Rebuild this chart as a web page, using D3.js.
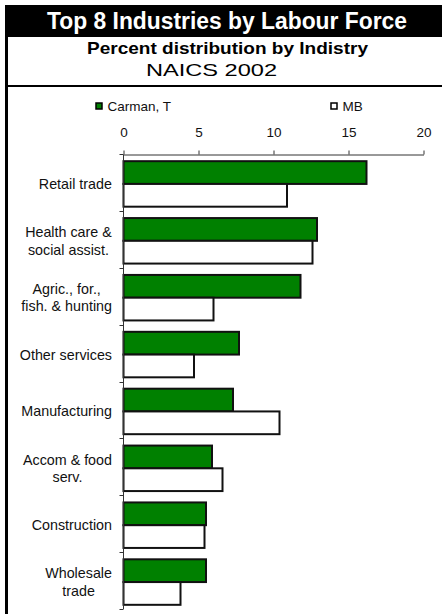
<!DOCTYPE html>
<html>
<head>
<meta charset="utf-8">
<script src="https://cdn.jsdelivr.net/npm/d3@7"></script>
<style>
  body { margin: 0; background: #fff; }
  text { font-family: "Liberation Sans", Arial, sans-serif; }
</style>
</head>
<body>
<div id="paper"></div>
<script>
// chart values
const categories = [
  ["Retail trade"],
  ["Health care &", "social assist."],
  ["Agric., for.,", "fish. & hunting"],
  ["Other services"],
  ["Manufacturing"],
  ["Accom & food", "serv."],
  ["Construction"],
  ["Wholesale", "trade"]
];
const carman = [16.2, 12.9, 11.8, 7.7, 7.3, 5.9, 5.5, 5.5];
const mb = [10.9, 12.6, 6.0, 4.7, 10.4, 6.6, 5.4, 3.8];
const seriesNames = ["Carman, T", "MB"];
const xTicks = [0, 5, 10, 15, 20];

const W = 442, H = 614;
const green = "#008000";

const svg = d3.select("#paper").append("svg")
  .attr("width", W)
  .attr("height", H);

// frame + title bar
svg.append("rect").attr("x", 5).attr("y", 5).attr("width", W - 5).attr("height", 32).attr("fill", "#000");
svg.append("rect").attr("x", 5).attr("y", 5).attr("width", 3).attr("height", H - 5).attr("fill", "#000");
svg.append("rect").attr("x", 5).attr("y", 85).attr("width", W - 5).attr("height", 2).attr("fill", "#000");

// titles (stretched a bit wider, like the original)
let t = svg.append("text")
  .attr("x", 227).attr("y", 29)
  .attr("text-anchor", "middle")
  .attr("fill", "#fff")
  .attr("font-weight", "bold")
  .attr("font-size", 23)
  .attr("textLength", 360)
  .attr("lengthAdjust", "spacingAndGlyphs")
  .text("Top 8 Industries by Labour Force");

svg.append("text")
  .attr("x", 227.5).attr("y", 54)
  .attr("text-anchor", "middle")
  .attr("font-weight", "bold")
  .attr("font-size", 17)
  .attr("textLength", 281)
  .attr("lengthAdjust", "spacingAndGlyphs")
  .text("Percent distribution by Indistry");

svg.append("text")
  .attr("x", 211.5).attr("y", 76)
  .attr("text-anchor", "middle")
  .attr("font-size", 17)
  .attr("textLength", 131)
  .attr("lengthAdjust", "spacingAndGlyphs")
  .text("NAICS 2002");

// scales
const x = d3.scaleLinear().domain([0, 20]).range([123.5, 423.5]);
const y = d3.scaleBand()
  .domain(d3.range(categories.length))
  .range([154, 609])
  .paddingInner(0.2)
  .paddingOuter(0.1);
const ySub = d3.scaleBand().domain([0, 1]).range([0, y.bandwidth()]);

// top axis
const xAxis = svg.append("g")
  .attr("transform", "translate(0,154.5)")
  .call(d3.axisTop(x).tickValues(xTicks).tickSize(4).tickSizeOuter(0).tickPadding(14));
xAxis.select(".domain").attr("stroke", "#333");
xAxis.selectAll(".tick line").attr("stroke", "#333");
xAxis.selectAll("text").attr("font-size", 13.5).attr("fill", "#111")
  .attr("font-family", "Liberation Sans, Arial, sans-serif");

// bars
const rows = svg.append("g").selectAll("g")
  .data(categories)
  .join("g")
  .attr("transform", (d, i) => `translate(0,${y(i) + 1.5})`);

rows.selectAll("rect")
  .data((d, i) => [carman[i], mb[i]])
  .join("rect")
  .attr("x", x(0))
  .attr("y", (d, j) => ySub(j))
  .attr("width", d => x(d) - x(0))
  .attr("height", ySub.bandwidth())
  .attr("fill", (d, j) => j === 0 ? green : "#fff")
  .attr("stroke", "#111")
  .attr("stroke-width", 2);

// left axis with ticks at category boundaries
const step = y.step();
const yStart = y(0) - step * y.paddingInner() / 2;
svg.append("line")
  .attr("x1", x(0)).attr("x2", x(0))
  .attr("y1", 154.5).attr("y2", yStart + step * categories.length)
  .attr("stroke", "#333");
svg.append("g").selectAll("line")
  .data(d3.range(categories.length + 1))
  .join("line")
  .attr("x1", x(0) - 4).attr("x2", x(0))
  .attr("y1", i => Math.round(yStart + i * step) + 0.5)
  .attr("y2", i => Math.round(yStart + i * step) + 0.5)
  .attr("stroke", "#333");

// category labels: block right aligned, lines centred inside the block
const labels = svg.append("g").selectAll("text")
  .data(categories)
  .join("text")
  .attr("font-size", 14.3)
  .attr("fill", "#111")
  .attr("text-anchor", "middle");

labels.each(function(lines, i) {
  const el = d3.select(this);
  const lh = 17.5;
  const cy = y(i) + y.bandwidth() / 2 + 1.5;
  lines.forEach((s, k) => {
    el.append("tspan")
      .attr("x", 0)
      .attr("y", cy + 5 + (k - (lines.length - 1) / 2) * lh)
      .text(s);
  });
  const w = this.getBBox().width;
  el.selectAll("tspan").attr("x", 112 - w / 2);
});

// legend
const legendX = [96, 331];
const leg = svg.append("g").selectAll("g")
  .data(seriesNames)
  .join("g")
  .attr("transform", (d, i) => `translate(${legendX[i]},103)`);
leg.append("rect")
  .attr("width", 6).attr("height", 6)
  .attr("fill", (d, i) => i === 0 ? green : "#fff")
  .attr("stroke", "#000").attr("stroke-width", 1.5);
leg.append("text")
  .attr("x", 11.5).attr("y", 7.5)
  .attr("font-size", 13.5)
  .attr("fill", "#111")
  .text(d => d);
</script>
</body>
</html>
